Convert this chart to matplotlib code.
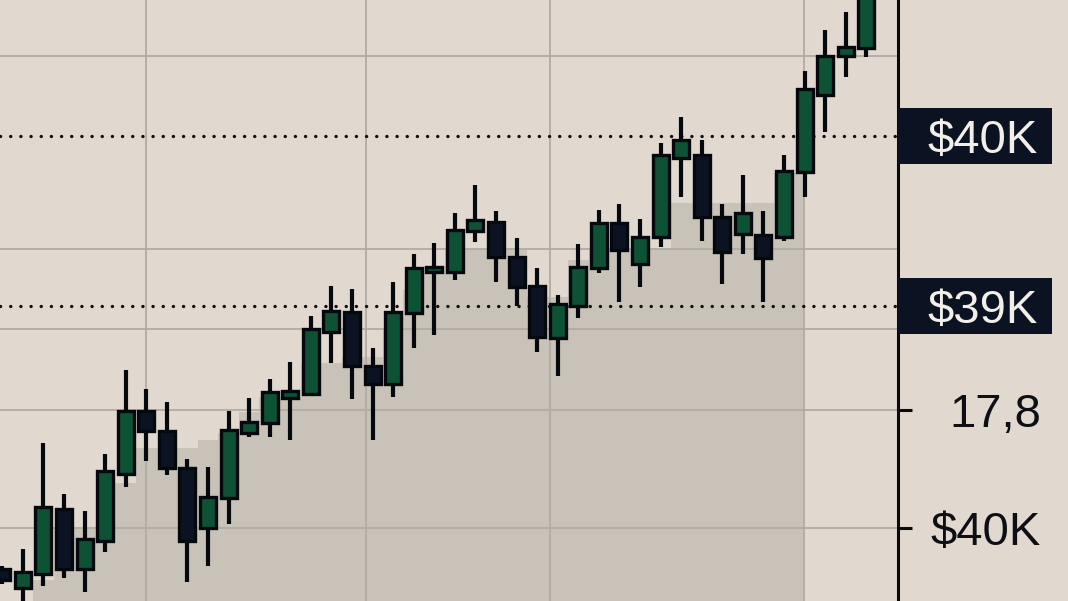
"""
Candlestick snapshot with price tags on the right rail.
"""

import sys
import numpy as np
import matplotlib
matplotlib.use('Agg')  # Non-interactive backend
import matplotlib.pyplot as plt
from matplotlib.patches import Rectangle
from matplotlib.transforms import blended_transform_factory

# Candle data (chart units, higher = up)
opens = [32, 13, 27, 92, 32, 60, 127, 190, 170, 133,
         73, 103, 168, 178, 203, 207, 269, 289, 235, 217,
         288, 329, 329, 370, 379, 344, 315, 263, 295, 333,
         378, 337, 364, 443, 446, 384, 367, 366, 364, 429,
         506, 545, 553]
highs = [35, 52, 158, 107, 90, 147, 231, 212, 199, 142,
         134, 190, 203, 222, 239, 285, 315, 312, 253, 319,
         347, 358, 388, 416, 390, 363, 333, 306, 357, 391,
         397, 382, 458, 484, 461, 397, 426, 390, 446, 530,
         571, 589, 625]
lows = [17, -9, 15, 23, 9, 49, 114, 140, 126, 19,
        35, 77, 164, 164, 161, 205, 238, 202, 161, 204,
        253, 266, 321, 359, 319, 295, 249, 225, 283, 328,
        299, 314, 354, 404, 360, 317, 347, 299, 360, 404,
        469, 524, 544]
closes = [21, 29, 94, 32, 62, 130, 190, 170, 133, 60,
          104, 171, 179, 209, 210, 272, 290, 235, 217, 289,
          333, 334, 371, 381, 344, 314, 264, 297, 334, 378,
          351, 364, 446, 461, 384, 349, 388, 343, 430, 512,
          545, 554, 611]

# Shaded backdrop, one level per candle starting at candle 2
shade_start = 2
shade_levels = [21, 73, 73, 73, 118, 153, 153, 153, 161, 168,
                189, 204, 204, 238, 238, 244, 244, 271, 311, 334,
                353, 353, 353, 353, 304, 304, 341, 353, 353, 353,
                353, 398, 398, 398, 398, 398, 428, 428]

# Grid and labels
grid_x = [7.0, 17.7, 26.6, 38.97]
grid_y = [73, 191, 272, 352, 545]
tick_values = [191, 73]
tick_labels = ['17,8', '$40K']
tag_values = [465, 295]
tag_labels = ['$40K', '$39K']

BG = '#e1d9cf'
SHADE = '#c8c2b8'
GRID = '#b2aba1'
GREEN = '#0e5235'
DARK = '#0b1322'
EDGE = '#05080c'


def main():
    plt.rcParams['font.family'] = ['Liberation Sans', 'DejaVu Sans']

    fig = plt.figure(figsize=(10.68, 6.01), dpi=100)
    fig.patch.set_facecolor(BG)
    ax = fig.add_axes([0, 0, 898 / 1068, 1])
    ax.set_facecolor(BG)

    n = len(opens)
    idx = np.arange(n)
    o = np.array(opens)
    c = np.array(closes)

    # Backdrop area, ends on the last vertical grid line
    edges = np.arange(len(shade_levels) + 1) + shade_start - 0.5
    edges[-1] = grid_x[-1]
    ax.stairs(shade_levels, edges, fill=True, baseline=-50,
              color=SHADE, zorder=0.3, linewidth=0)

    # Grid
    ax.set_axisbelow(True)
    ax.set_xticks(grid_x)
    ax.set_xticklabels([])
    ax.tick_params(axis='x', length=0)
    ax.xaxis.grid(True, color=GRID, linewidth=1.3)
    ax.set_yticks(tick_values)
    ax.set_yticks([v for v in grid_y if v not in tick_values], minor=True)
    ax.yaxis.grid(True, which='both', color=GRID, linewidth=1.3)

    # Dotted reference lines
    for v in tag_values:
        ax.axhline(v, color='#111111', linewidth=2.4,
                   linestyle=(0, (0.05, 3.0)), dash_capstyle='round', zorder=1)

    # Candles
    colors = [GREEN if cl >= op else DARK for op, cl in zip(o, c)]
    ax.vlines(idx, lows, highs, color=EDGE, linewidth=3.0, zorder=2)
    body_bottom = np.minimum(o, c)
    body_height = np.maximum(np.abs(c - o), 4)
    ax.bar(idx, body_height, bottom=body_bottom, width=0.78,
           color=colors, edgecolor=EDGE, linewidth=2.4, zorder=3)

    ax.set_xlim(-0.112, 43.54)
    ax.set_ylim(0, 601)

    # Right rail
    for side in ['left', 'top', 'bottom']:
        ax.spines[side].set_visible(False)
    ax.spines['right'].set_linewidth(2.2)
    ax.spines['right'].set_color('#0a0a0a')
    ax.yaxis.tick_right()
    ax.tick_params(axis='y', which='major', direction='out', length=10,
                   width=2.2, color='#0a0a0a', pad=93, labelsize=34,
                   labelcolor='#0d0f14')
    ax.tick_params(axis='y', which='minor', length=0)
    ax.set_yticklabels(tick_labels)
    for lab in ax.get_yticklabels():
        lab.set_horizontalalignment('right')

    # Price tags
    trans = blended_transform_factory(fig.transFigure, ax.transData)
    for v, lab in zip(tag_values, tag_labels):
        box = Rectangle((898 / 1068, v - 28), 154 / 1068, 56,
                        transform=trans, facecolor=DARK, edgecolor='none',
                        clip_on=False, zorder=5)
        fig.add_artist(box)
        fig.text(1038 / 1068, v, lab, transform=trans, ha='right',
                 va='center_baseline', fontsize=34, color='#f2eee8',
                 zorder=6)

    fig.savefig('out.png', dpi=100, facecolor=BG)
    print("Saved plot: out.png")
    return 0


if __name__ == "__main__":
    sys.exit(main())
